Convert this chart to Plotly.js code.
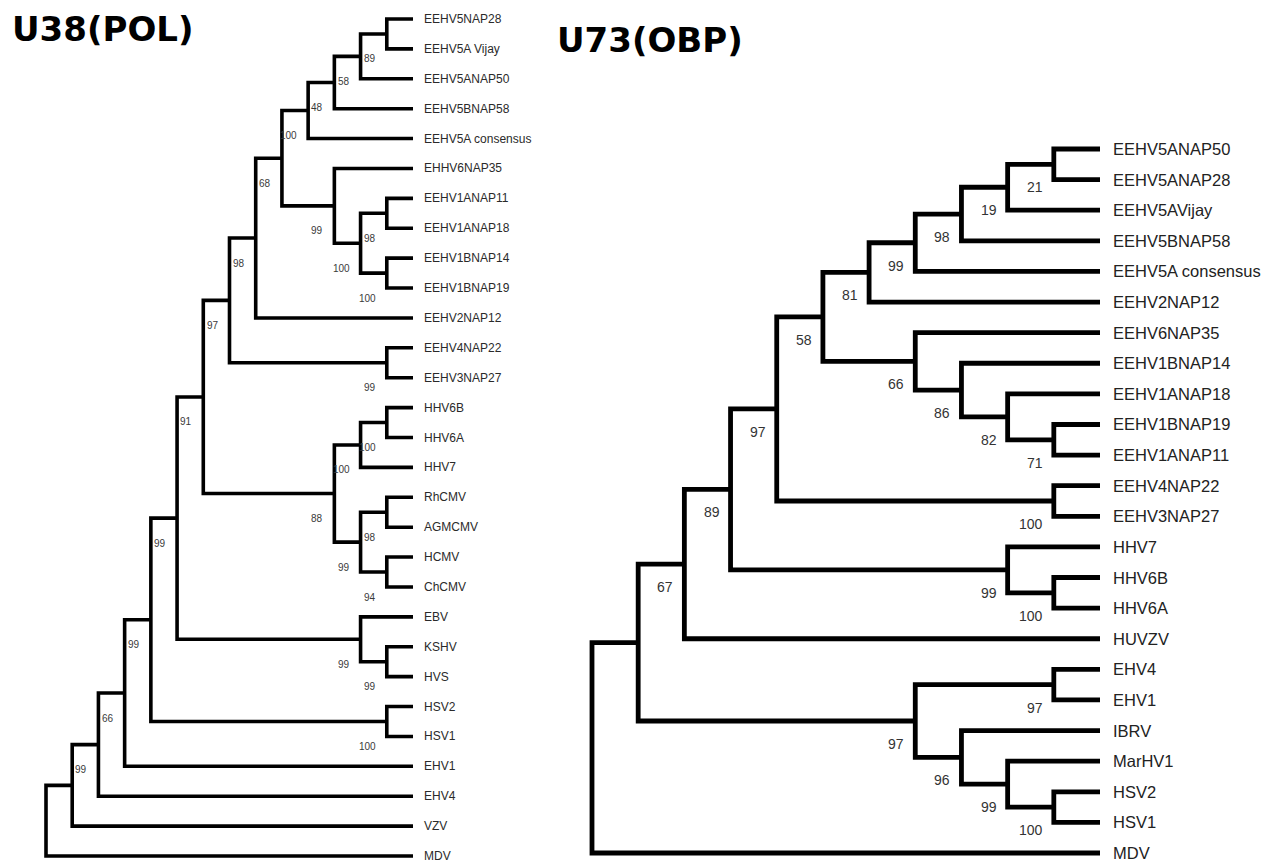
<!DOCTYPE html>
<html>
<head>
<meta charset="utf-8">
<script src="https://cdn.plot.ly/plotly-3.0.1.min.js"></script>
<style>html,body{margin:0;padding:0;background:#fff;}#chart{width:1266px;height:864px;}</style>
</head>
<body>
<div id="chart"></div>
<script>
// ---------------- DATA ----------------
const polTitle = 'U38(POL)';
const obpTitle = 'U73(OBP)';

// U38(POL) leaves, top to bottom
const polLeaves = ['EEHV5NAP28','EEHV5A Vijay','EEHV5ANAP50','EEHV5BNAP58','EEHV5A consensus',
  'EHHV6NAP35','EEHV1ANAP11','EEHV1ANAP18','EEHV1BNAP14','EEHV1BNAP19','EEHV2NAP12',
  'EEHV4NAP22','EEHV3NAP27','HHV6B','HHV6A','HHV7','RhCMV','AGMCMV','HCMV','ChCMV',
  'EBV','KSHV','HVS','HSV2','HSV1','EHV1','EHV4','VZV','MDV'];
// internal nodes: [name, child A, child B, bootstrap]
const polNodes = [
  ['p1','EEHV5NAP28','EEHV5A Vijay','89'],
  ['p2','p1','EEHV5ANAP50','58'],
  ['p3','p2','EEHV5BNAP58','48'],
  ['p4','p3','EEHV5A consensus','100'],
  ['p5','EEHV1ANAP11','EEHV1ANAP18','98'],
  ['p6','EEHV1BNAP14','EEHV1BNAP19','100'],
  ['p7','p5','p6','100'],
  ['p8','EHHV6NAP35','p7','99'],
  ['p9','p4','p8','68'],
  ['p10','p9','EEHV2NAP12','98'],
  ['p11','EEHV4NAP22','EEHV3NAP27','99'],
  ['p12','p10','p11','97'],
  ['p13','HHV6B','HHV6A','100'],
  ['p14','p13','HHV7','100'],
  ['p15','RhCMV','AGMCMV','98'],
  ['p16','HCMV','ChCMV','94'],
  ['p17','p15','p16','99'],
  ['p18','p14','p17','88'],
  ['p19','p12','p18','91'],
  ['p20','KSHV','HVS','99'],
  ['p21','EBV','p20','99'],
  ['p22','p19','p21','99'],
  ['p23','HSV2','HSV1','100'],
  ['p24','p22','p23','99'],
  ['p25','p24','EHV1','66'],
  ['p26','p25','EHV4','99'],
  ['p27','p26','VZV',''],
  ['p28','p27','MDV','']
];

// U73(OBP) leaves, top to bottom
const obpLeaves = ['EEHV5ANAP50','EEHV5ANAP28','EEHV5AVijay','EEHV5BNAP58','EEHV5A consensus',
  'EEHV2NAP12','EEHV6NAP35','EEHV1BNAP14','EEHV1ANAP18','EEHV1BNAP19','EEHV1ANAP11',
  'EEHV4NAP22','EEHV3NAP27','HHV7','HHV6B','HHV6A','HUVZV','EHV4','EHV1','IBRV',
  'MarHV1','HSV2','HSV1','MDV'];
const obpNodes = [
  ['o1','EEHV5ANAP50','EEHV5ANAP28','21'],
  ['o2','o1','EEHV5AVijay','19'],
  ['o3','o2','EEHV5BNAP58','98'],
  ['o4','o3','EEHV5A consensus','99'],
  ['o5','o4','EEHV2NAP12','81'],
  ['o6','EEHV1BNAP19','EEHV1ANAP11','71'],
  ['o7','EEHV1ANAP18','o6','82'],
  ['o8','EEHV1BNAP14','o7','86'],
  ['o9','EEHV6NAP35','o8','66'],
  ['o10','o5','o9','58'],
  ['o11','EEHV4NAP22','EEHV3NAP27','100'],
  ['o12','o10','o11','97'],
  ['o13','HHV6B','HHV6A','100'],
  ['o14','HHV7','o13','99'],
  ['o15','o12','o14','89'],
  ['o16','o15','HUVZV','67'],
  ['o17','EHV4','EHV1','97'],
  ['o18','HSV2','HSV1','100'],
  ['o19','MarHV1','o18','99'],
  ['o20','IBRV','o19','96'],
  ['o21','o17','o20','97'],
  ['o22','o16','o21',''],
  ['o23','o22','MDV','']
];

// ---------------- LAYOUT OF TREES (topology-only cladogram) ----------------
function buildTree(leaves, nodes) {
  const m = {};
  leaves.forEach((n, i) => { m[n] = {name: n, y: i, h: 0, leaf: true}; });
  nodes.forEach(([name, a, b, bs]) => {
    const A = m[a], B = m[b];
    m[name] = {name, kids: [A, B], y: (A.y + B.y) / 2, h: 1 + Math.max(A.h, B.h), bs, leaf: false};
  });
  const root = m[nodes[nodes.length - 1][0]];
  const H = root.h;
  Object.values(m).forEach(n => { n.x = H - n.h; });
  return {map: m, H, root};
}

function treeTraces(tree, xa, ya, lw) {
  const xs = [], ys = [];
  Object.values(tree.map).forEach(n => {
    if (n.leaf) return;
    const [a, b] = n.kids[0].y < n.kids[1].y ? n.kids : [n.kids[1], n.kids[0]];
    xs.push(a.x, n.x, n.x, b.x, null);
    ys.push(a.y, a.y, b.y, b.y, null);
  });
  return {type: 'scatter', mode: 'lines', x: xs, y: ys, xaxis: xa, yaxis: ya,
    line: {color: '#000', width: lw}, hoverinfo: 'skip', showlegend: false};
}

const pol = buildTree(polLeaves, polNodes);
const obp = buildTree(obpLeaves, obpNodes);

const annotations = [];
function addLabels(tree, leaves, xr, yr, leafFont, bsFont, leafShift, bsDx, bsDy) {
  leaves.forEach(n => {
    const L = tree.map[n];
    annotations.push({xref: xr, yref: yr, x: L.x, y: L.y, text: n, showarrow: false,
      xanchor: 'left', yanchor: 'middle', xshift: leafShift, borderpad: 0, borderwidth: 0,
      font: leafFont});
  });
  Object.values(tree.map).forEach(n => {
    if (n.leaf || !n.bs) return;
    annotations.push({xref: xr, yref: yr, x: n.x, y: n.y, text: n.bs, showarrow: false,
      xanchor: 'right', yanchor: 'middle', xshift: bsDx, yshift: bsDy, borderpad: 0, borderwidth: 0,
      font: bsFont});
  });
}

addLabels(pol, polLeaves, 'x', 'y',
  {family: 'Liberation Sans, Arial, sans-serif', size: 12, color: '#2a2a2a'},
  {family: 'Liberation Sans, Arial, sans-serif', size: 10, color: '#3a3a3a'}, 11, -11, -25);
addLabels(obp, obpLeaves, 'x2', 'y2',
  {family: 'Liberation Sans, Arial, sans-serif', size: 16.5, color: '#222'},
  {family: 'Liberation Sans, Arial, sans-serif', size: 14, color: '#333'}, 13, -11, -23);

annotations.push({xref: 'paper', yref: 'paper', x: 10 / 1266, y: 1 - 29 / 864, xanchor: 'left', yanchor: 'middle',
  text: '<b>' + polTitle + '</b>', showarrow: false, font: {family: 'DejaVu Sans, sans-serif', size: 34, color: '#000'}});
annotations.push({xref: 'paper', yref: 'paper', x: 555 / 1266, y: 1 - 40 / 864, xanchor: 'left', yanchor: 'middle',
  text: '<b>' + obpTitle + '</b>', showarrow: false, font: {family: 'DejaVu Sans, sans-serif', size: 34, color: '#000'}});

// pixel geometry (styling): left tree root at 46px, leaves at 413px; right root 592px, leaves 1100px
const W = 1266, Hpx = 864;
const lx0 = 46, lx1 = 413, rx0 = 592, rx1 = 1100;
const ls = (lx1 - lx0) / pol.H, rs = (rx1 - rx0) / obp.H;
const ly0 = 19, lys = (856 - 19) / (polLeaves.length - 1);
const ry0 = 149, rys = (853 - 149) / (obpLeaves.length - 1);

const hidden = {visible: false, showgrid: false, zeroline: false, fixedrange: true};
const layout = {
  width: W, height: Hpx, margin: {l: 0, r: 0, t: 0, b: 0},
  paper_bgcolor: '#fff', plot_bgcolor: '#fff', showlegend: false,
  xaxis: Object.assign({}, hidden, {domain: [0, 1], range: [-lx0 / ls, (W - lx0) / ls]}),
  xaxis2: Object.assign({}, hidden, {domain: [0, 1], range: [-rx0 / rs, (W - rx0) / rs], overlaying: 'x'}),
  yaxis: Object.assign({}, hidden, {domain: [0, 1], range: [(Hpx - ly0) / lys, -ly0 / lys]}),
  yaxis2: Object.assign({}, hidden, {domain: [0, 1], range: [(Hpx - ry0) / rys, -ry0 / rys], overlaying: 'y'}),
  annotations
};

Plotly.newPlot('chart', [treeTraces(pol, 'x', 'y', 3.6), treeTraces(obp, 'x2', 'y2', 4.8)], layout,
  {staticPlot: true, displayModeBar: false});
</script>
</body>
</html>
